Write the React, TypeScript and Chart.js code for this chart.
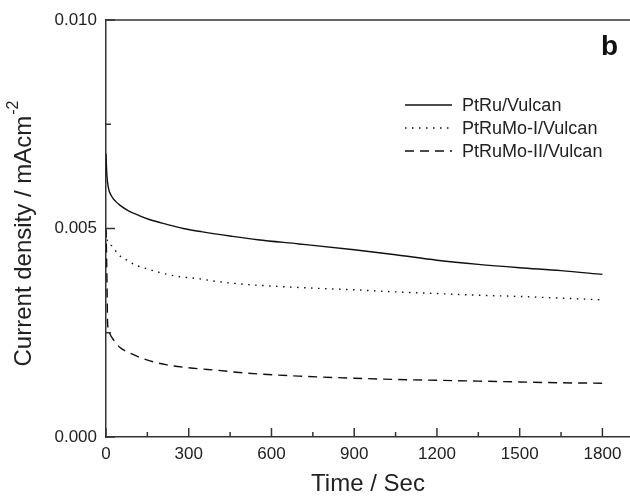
import React, { useEffect, useRef } from "react";
import { Chart, registerables } from "chart.js";

Chart.register(...registerables);

const seriesNames = ["PtRu/Vulcan", "PtRuMo-I/Vulcan", "PtRuMo-II/Vulcan"];

const timeA = [0, 1, 3, 8, 20, 35, 50, 80, 120, 160, 220, 280, 350, 450, 550, 700, 900, 1050, 1200, 1350, 1500, 1650, 1800];
const valuesA = [0.0068, 0.0066, 0.0063, 0.0060, 0.00578, 0.00565, 0.00556, 0.00543, 0.00531, 0.00521, 0.0051, 0.0050, 0.00492, 0.00482, 0.00473, 0.00463, 0.00449, 0.00437, 0.00424, 0.00414, 0.00406, 0.00399, 0.00390];

const timeB = [0, 5, 22, 44, 76, 105, 141, 203, 261, 330, 402, 486, 600, 750, 900, 1050, 1200, 1350, 1500, 1650, 1800];
const valuesB = [0.0049, 0.0047, 0.00458, 0.00438, 0.00424, 0.00413, 0.00405, 0.00393, 0.00385, 0.0038, 0.00373, 0.00367, 0.00362, 0.00357, 0.00353, 0.00348, 0.00344, 0.0034, 0.00337, 0.00333, 0.00329];

const timeC = [0, 3, 6, 12, 20, 33, 50, 87, 148, 221, 316, 402, 512, 700, 900, 1050, 1200, 1350, 1500, 1650, 1800];
const valuesC = [0.0050, 0.0040, 0.0027, 0.0025, 0.0024, 0.00228, 0.00215, 0.00201, 0.00185, 0.00173, 0.00165, 0.0016, 0.00153, 0.00146, 0.00141, 0.00138, 0.00136, 0.00134, 0.00132, 0.0013, 0.00129];

const xMajorTicks = [0, 300, 600, 900, 1200, 1500, 1800];
const xMinorTicks = [150, 450, 750, 1050, 1350, 1650];
const yMajorTicks = [0, 0.005, 0.01];
const yMinorTicks = [0.0025, 0.0075];

const FONT = "'Liberation Sans', Arial, Helvetica, sans-serif";
const INK = "#222";
const dashes = [[], [1.5, 5.5], [9, 6]];

const overlay = {
  id: "overlay",
  afterDraw(chart: any) {
    const ctx = chart.ctx;
    const area = chart.chartArea;
    const xs = chart.scales.x;
    const ys = chart.scales.y;
    ctx.save();
    ctx.strokeStyle = "#333";
    ctx.lineWidth = 1.5;
    // top frame
    ctx.beginPath();
    ctx.moveTo(area.left, area.top);
    ctx.lineTo(area.right, area.top);
    ctx.stroke();
    // inward ticks
    const tick = (v: number, len: number, axis: "x" | "y") => {
      ctx.beginPath();
      if (axis === "x") {
        const p = xs.getPixelForValue(v);
        ctx.moveTo(p, area.bottom);
        ctx.lineTo(p, area.bottom - len);
      } else {
        const p = ys.getPixelForValue(v);
        ctx.moveTo(area.left, p);
        ctx.lineTo(area.left + len, p);
      }
      ctx.stroke();
    };
    xMajorTicks.forEach((v) => tick(v, 9, "x"));
    xMinorTicks.forEach((v) => tick(v, 5, "x"));
    yMajorTicks.forEach((v) => tick(v, 9, "y"));
    yMinorTicks.forEach((v) => tick(v, 5, "y"));

    // panel letter
    ctx.fillStyle = "#111";
    ctx.font = `bold 28px ${FONT}`;
    ctx.textAlign = "left";
    ctx.textBaseline = "alphabetic";
    ctx.fillText("b", 601, 55);

    // legend
    const rows = [105, 128, 151];
    ctx.font = `18px ${FONT}`;
    ctx.textBaseline = "middle";
    seriesNames.forEach((name, i) => {
      ctx.strokeStyle = "#111";
      ctx.lineWidth = 1.4;
      ctx.setLineDash(dashes[i]);
      ctx.beginPath();
      ctx.moveTo(405, rows[i]);
      ctx.lineTo(452, rows[i]);
      ctx.stroke();
      ctx.setLineDash([]);
      ctx.fillStyle = INK;
      ctx.fillText(name, 462, rows[i] + 1);
    });

    // y axis title with superscript
    ctx.translate(24, 234);
    ctx.rotate(-Math.PI / 2);
    const main = "Current density / mAcm";
    const sup = "-2";
    ctx.font = `24px ${FONT}`;
    const wMain = ctx.measureText(main).width;
    ctx.font = `16px ${FONT}`;
    const wSup = ctx.measureText(sup).width;
    const start = -(wMain + wSup) / 2;
    ctx.fillStyle = INK;
    ctx.textBaseline = "middle";
    ctx.font = `24px ${FONT}`;
    ctx.fillText(main, start, 0);
    ctx.font = `16px ${FONT}`;
    ctx.fillText(sup, start + wMain + 1, -10);
    ctx.restore();
  },
};

export default function App() {
  const ref = useRef<HTMLCanvasElement>(null);
  useEffect(() => {
    document.body.style.margin = "0";
    const mk = (t: number[], v: number[]) => t.map((x, i) => ({ x, y: v[i] }));
    const chart = new Chart(ref.current!, {
      type: "line",
      data: {
        datasets: [
          { label: seriesNames[0], data: mk(timeA, valuesA), borderDash: dashes[0] },
          { label: seriesNames[1], data: mk(timeB, valuesB), borderDash: dashes[1] },
          { label: seriesNames[2], data: mk(timeC, valuesC), borderDash: dashes[2] },
        ].map((d) => ({
          ...d,
          borderColor: "#111",
          borderWidth: 1.4,
          pointRadius: 0,
          fill: false,
          cubicInterpolationMode: "monotone" as const,
        })),
      },
      options: {
        animation: false,
        responsive: false,
        devicePixelRatio: 1,
        layout: { padding: { top: 20, right: 0, left: 0, bottom: 0 } },
        plugins: { legend: { display: false }, tooltip: { enabled: false } },
        scales: {
          x: {
            type: "linear",
            min: 0,
            max: 1900,
            grid: { display: false, drawTicks: false },
            border: { display: true, color: "#333", width: 1.5 },
            ticks: {
              stepSize: 300,
              includeBounds: false,
              padding: 7,
              color: INK,
              font: { family: FONT, size: 17 },
              maxRotation: 0,
              callback: (v: any) => String(v),
            },
            title: {
              display: true,
              text: "Time / Sec",
              color: INK,
              font: { family: FONT, size: 24 },
              padding: { top: 4, bottom: 0 },
            },
            afterFit: (s: any) => {
              s.height = 62;
            },
          },
          y: {
            type: "linear",
            min: 0,
            max: 0.01,
            grid: { display: false, drawTicks: false },
            border: { display: true, color: "#333", width: 1.5 },
            ticks: {
              stepSize: 0.005,
              padding: 9,
              color: INK,
              font: { family: FONT, size: 17 },
              callback: (v: any) => Number(v).toFixed(3),
            },
            title: { display: false },
            afterFit: (s: any) => {
              s.width = 106;
            },
          },
        },
      },
      plugins: [overlay],
    });
    return () => chart.destroy();
  }, []);
  return (
    <div style={{ width: 630, height: 499 }}>
      <canvas ref={ref} width={630} height={499} style={{ display: "block" }} />
    </div>
  );
}
